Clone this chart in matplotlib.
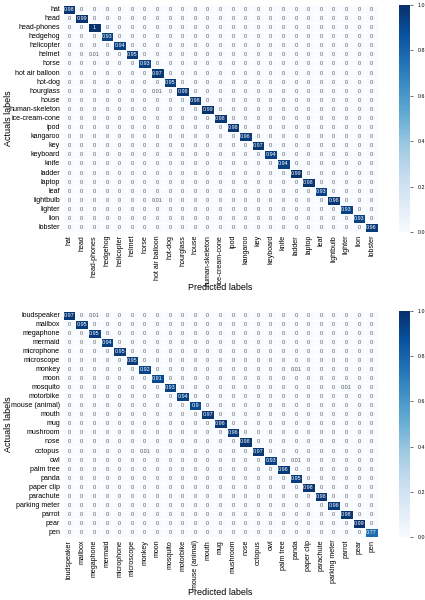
import numpy as np
import matplotlib
matplotlib.use("Agg")
import matplotlib.pyplot as plt
import seaborn as sns

labels_top = ["hat", "head", "head-phones", "hedgehog", "helicopter", "helmet", "horse",
              "hot air balloon", "hot-dog", "hourglass", "house", "human-skeleton",
              "ice-cream-cone", "ipod", "kangaroo", "key", "keyboard", "knife", "ladder",
              "laptop", "leaf", "lightbulb", "lighter", "lion", "lobster"]
diag_top = [0.98, 0.99, 1, 0.93, 0.94, 0.95, 0.93, 0.97, 0.95, 0.98, 0.98, 0.99, 0.98,
            0.98, 0.96, 0.97, 0.94, 0.94, 0.99, 0.98, 0.93, 0.98, 0.93, 0.93, 0.96]
# (actual, predicted, value)
off_top = [("helmet", "head-phones", 0.01),
           ("hourglass", "hot air balloon", 0.01),
           ("lightbulb", "hot air balloon", 0.01)]

labels_bot = ["loudspeaker", "mailbox", "megaphone", "mermaid", "microphone", "microscope",
              "monkey", "moon", "mosquito", "motorbike", "mouse (animal)", "mouth", "mug",
              "mushroom", "nose", "octopus", "owl", "palm tree", "panda", "paper clip",
              "parachute", "parking meter", "parrot", "pear", "pen"]
diag_bot = [0.97, 0.95, 0.95, 0.94, 0.95, 0.95, 0.92, 0.91, 0.93, 0.94, 0.9, 0.97, 0.96,
            0.96, 0.98, 0.97, 0.93, 0.96, 0.95, 0.98, 0.98, 0.96, 0.98, 0.99, 0.77]
off_bot = [("loudspeaker", "megaphone", 0.01),
           ("monkey", "panda", 0.01),
           ("mosquito", "parrot", 0.01),
           ("octopus", "monkey", 0.01),
           ("owl", "panda", 0.01)]


def build_matrix(labels, diag, off):
    m = np.diag(np.array(diag, dtype=float))
    for a, p, v in off:
        m[labels.index(a), labels.index(p)] = v
    return m


plt.rcParams["font.family"] = ["Liberation Sans", "DejaVu Sans"]

fig = plt.figure(figsize=(4.25, 6), dpi=100)
boxes = [(0.613, 0.992), (0.105, 0.482)]
data = [(labels_top, diag_top, off_top), (labels_bot, diag_bot, off_bot)]

for (bottom, top), (labels, diag, off) in zip(boxes, data):
    ax = fig.add_axes([0.148, bottom, 0.889 - 0.148, top - bottom])
    cax = fig.add_axes([0.939, bottom, 0.026, top - bottom])
    cm = build_matrix(labels, diag, off)
    sns.heatmap(cm, ax=ax, cbar_ax=cax, cmap="Blues", vmin=0, vmax=1,
                annot=True, fmt="g", annot_kws={"fontsize": 3.9},
                linewidths=0.5, linecolor="white",
                xticklabels=labels, yticklabels=labels)
    for t in ax.texts:
        if t.get_text() in ("0", "0.01"):
            t.set_color("#555555")
    ax.tick_params(axis="both", length=0, labelsize=5.1, pad=2)
    ax.set_xticklabels(labels, rotation=90)
    ax.set_yticklabels(labels, rotation=0)
    ax.set_xlabel("Predicted labels", fontsize=6.5)
    ax.set_ylabel("Actuals labels", fontsize=6.5)
    ax.xaxis.set_label_coords(0.5, -0.225)
    ax.yaxis.set_label_coords(-0.16, 0.5)
    cax.tick_params(labelsize=3.8, length=2, width=0.4)
    cax.set_yticks([0.0, 0.2, 0.4, 0.6, 0.8, 1.0])

fig.savefig("out.png", dpi=100)
